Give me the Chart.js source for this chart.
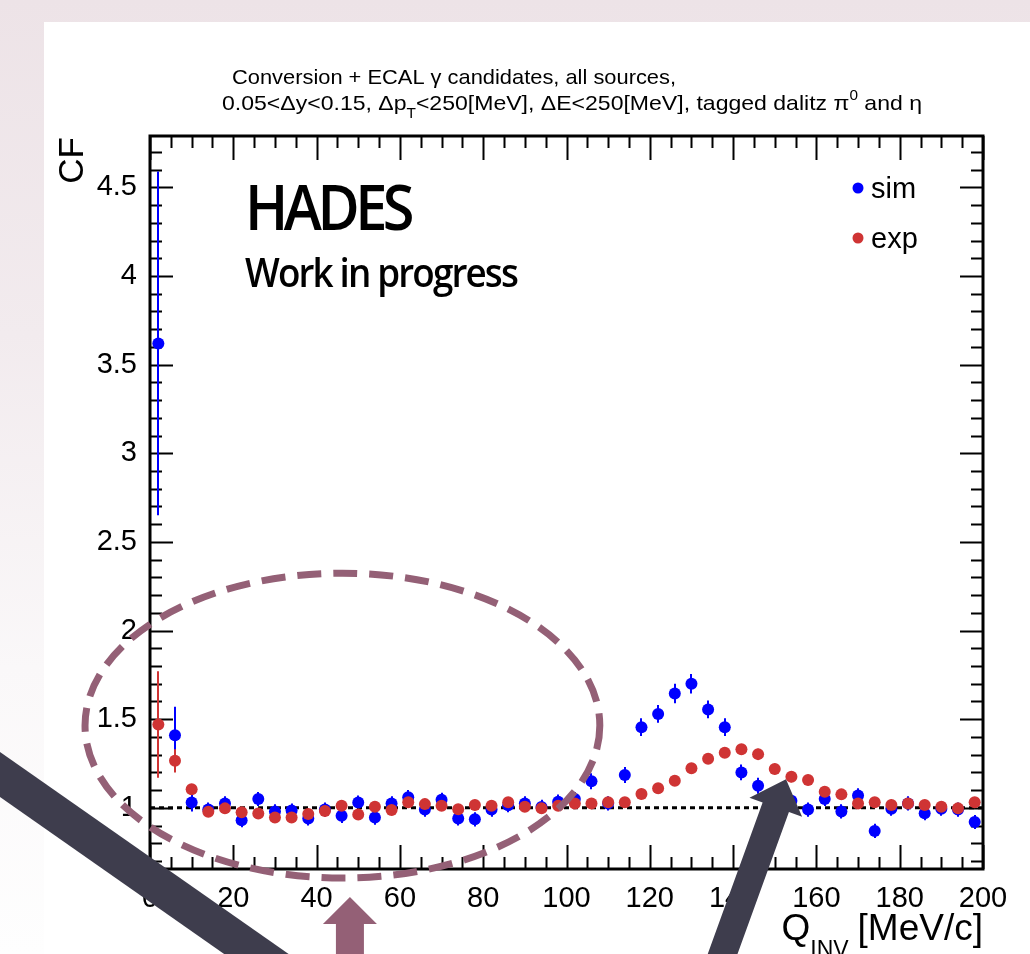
<!DOCTYPE html>
<html>
<head>
<meta charset="utf-8">
<script src="https://cdn.jsdelivr.net/npm/chart.js@4.4.0/dist/chart.umd.min.js"></script>
<style>
	html, body { margin: 0; padding: 0; }
	body {
		width: 1030px; height: 954px; position: relative; overflow: hidden;
		background: linear-gradient(to bottom, #ede3e7 0%, #f2ebee 35%, #faf8f9 70%, #fefefe 100%);
	}
	#sheet { position: absolute; left: 44px; top: 22px; right: 0; bottom: 0; background: #fff; }
	#cf { position: absolute; left: 0; top: 0; }
</style>
</head>
<body>
<div id="sheet"></div>
<canvas id="cf" width="1030" height="954"></canvas>
<script>
// Q_inv bin centres [MeV/c], 4 MeV bins
const Q_BINS = [
	2, 6, 10, 14, 18, 22, 26, 30, 34, 38,
	42, 46, 50, 54, 58, 62, 66, 70, 74, 78,
	82, 86, 90, 94, 98, 102, 106, 110, 114, 118,
	122, 126, 130, 134, 138, 142, 146, 150, 154, 158,
	162, 166, 170, 174, 178, 182, 186, 190, 194, 198,
]

const SIM_CF = [
	3.62, 1.41, 1.03, 0.99, 1.025, 0.93, 1.05, 0.98, 0.985, 0.94,
	0.99, 0.955, 1.03, 0.945, 1.025, 1.06, 0.99, 1.045, 0.94, 0.935,
	0.99, 1.015, 1.025, 1.005, 1.035, 1.05, 1.15, 1.025, 1.185, 1.455,
	1.53, 1.645, 1.70, 1.555, 1.455, 1.20, 1.125, 1.07, 1.04, 0.99,
	1.05, 0.98, 1.07, 0.87, 0.995, 1.025, 0.97, 0.995, 0.99, 0.92,
]
const SIM_ERR = [
	0.97, 0.16, 0.05, 0.04, 0.04, 0.04, 0.04, 0.04, 0.04, 0.04,
	0.04, 0.04, 0.04, 0.04, 0.04, 0.04, 0.04, 0.04, 0.04, 0.04,
	0.04, 0.04, 0.04, 0.04, 0.04, 0.04, 0.045, 0.04, 0.045, 0.05,
	0.05, 0.055, 0.055, 0.05, 0.05, 0.045, 0.045, 0.04, 0.04, 0.04,
	0.04, 0.04, 0.04, 0.04, 0.04, 0.04, 0.04, 0.04, 0.04, 0.04,
]

const EXP_CF = [
	1.47, 1.265, 1.105, 0.978, 0.997, 0.975, 0.968, 0.946, 0.946, 0.965,
	0.982, 1.012, 0.963, 1.006, 0.988, 1.031, 1.021, 1.012, 0.992, 1.016,
	1.012, 1.031, 1.006, 0.997, 1.012, 1.025, 1.025, 1.031, 1.031, 1.078,
	1.11, 1.153, 1.223, 1.277, 1.311, 1.33, 1.303, 1.219, 1.175, 1.157,
	1.091, 1.076, 1.025, 1.031, 1.016, 1.025, 1.016, 1.006, 0.997, 1.031,
]
const EXP_ERR = [
	0.30, 0.065, 0.03, 0.03, 0.03, 0.03, 0.03, 0.03, 0.03, 0.03,
	0.03, 0.03, 0.03, 0.03, 0.03, 0.03, 0.03, 0.03, 0.03, 0.03,
	0.03, 0.03, 0.03, 0.03, 0.03, 0.03, 0.03, 0.03, 0.03, 0.03,
	0.03, 0.03, 0.03, 0.03, 0.03, 0.03, 0.03, 0.03, 0.03, 0.03,
	0.03, 0.03, 0.03, 0.03, 0.03, 0.03, 0.03, 0.03, 0.03, 0.03,
]

const X_TICKS = [0, 20, 40, 60, 80, 100, 120, 140, 160, 180, 200]
const Y_TICKS = [1, 1.5, 2, 2.5, 3, 3.5, 4, 4.5]
const X_RANGE = [0, 200]
const Y_RANGE = [0.655, 4.79]
const UNITY = [{ x: 0, y: 1 }, { x: 200, y: 1 }]

const BLUE = '#0000ff'
const RED = '#cf3434'
const MAUVE = '#946076'
const SLATE = '#3e3d4d'
const FONT = '"Liberation Sans", Arial, Helvetica, sans-serif'

// slide markings, in axis units
const RING = { x: 46.2, y: 1.464, rx: 61.8, ry: 0.86 }
const UP_ARROW = { from: [48.0, 0.085], to: [48.0, 0.497] }
const SIDE_ARROW = { from: [135.7, 0.06], to: [152.7, 1.162] }
const BAR = { from: [-40.8, 1.267], to: [43.2, -0.115] }

function points (ys) {
	return Q_BINS.map((q, i) => ({ x: q, y: ys[i] }))
}

function arrow (ctx, x0, y0, x1, y1, shaft, head, head_len) {
	const len = Math.hypot(x1 - x0, y1 - y0)
	const ux = (x1 - x0) / len
	const uy = (y1 - y0) / len
	const nx = -uy
	const ny = ux
	const bx = x1 - ux * head_len
	const by = y1 - uy * head_len
	ctx.beginPath()
	ctx.moveTo(x0 + nx * shaft, y0 + ny * shaft)
	ctx.lineTo(bx + nx * shaft, by + ny * shaft)
	ctx.lineTo(bx + nx * head, by + ny * head)
	ctx.lineTo(x1, y1)
	ctx.lineTo(bx - nx * head, by - ny * head)
	ctx.lineTo(bx - nx * shaft, by - ny * shaft)
	ctx.lineTo(x0 - nx * shaft, y0 - ny * shaft)
	ctx.closePath()
	ctx.fill()
}

// draw a run of [text, baseline shift, font] pieces squeezed to a given width
function squeezed (ctx, pieces, x, y, width) {
	let natural = 0
	for (const [t, , f] of pieces) {
		ctx.font = f
		natural += ctx.measureText(t).width
	}
	ctx.save()
	ctx.translate(x, y)
	ctx.scale(width / natural, 1)
	let cx = 0
	for (const [t, dy, f] of pieces) {
		ctx.font = f
		ctx.fillText(t, cx, dy)
		cx += ctx.measureText(t).width
	}
	ctx.restore()
}

const axes_plugin = {
	id: 'root_frame',
	beforeDatasetsDraw (chart) {
		const { ctx, chartArea: a, scales: { x, y } } = chart
		ctx.save()
		ctx.strokeStyle = '#000'
		ctx.lineWidth = 2
		ctx.beginPath()
		for (let v = X_RANGE[0]; v <= X_RANGE[1]; v += 5) {
			const px = Math.round(x.getPixelForValue(v)) + 0.5
			const len = v % 20 === 0 ? 24 : 12
			ctx.moveTo(px, a.bottom); ctx.lineTo(px, a.bottom - len)
			ctx.moveTo(px, a.top); ctx.lineTo(px, a.top + len)
		}
		for (let i = 7; i <= 47; i++) {
			const py = Math.round(y.getPixelForValue(i / 10)) + 0.5
			const len = i % 5 === 0 ? 23 : 12
			ctx.moveTo(a.left, py); ctx.lineTo(a.left + len, py)
			ctx.moveTo(a.right, py); ctx.lineTo(a.right - len, py)
		}
		ctx.stroke()

		// error bars
		ctx.beginPath()
		ctx.rect(a.left, a.top, a.right - a.left, a.bottom - a.top)
		ctx.clip()
		const sets = [[SIM_CF, SIM_ERR, BLUE], [EXP_CF, EXP_ERR, RED]]
		for (const [vals, errs, col] of sets) {
			ctx.strokeStyle = col
			ctx.lineWidth = 2
			ctx.beginPath()
			Q_BINS.forEach(function (q, i) {
				const px = Math.round(x.getPixelForValue(q))
				ctx.moveTo(px, y.getPixelForValue(vals[i] - errs[i]))
				ctx.lineTo(px, y.getPixelForValue(vals[i] + errs[i]))
			})
			ctx.stroke()
		}
		ctx.restore()
	},
	afterDatasetsDraw (chart) {
		const { ctx, chartArea: a } = chart
		ctx.save()
		ctx.strokeStyle = '#000'
		ctx.lineWidth = 3
		ctx.strokeRect(a.left, a.top, a.right - a.left, a.bottom - a.top)
		ctx.restore()
	},
	afterDraw (chart) {
		const { ctx, chartArea: a, scales: { x, y } } = chart
		ctx.save()
		ctx.fillStyle = '#000'
		ctx.textAlign = 'left'
		ctx.textBaseline = 'alphabetic'

		// header
		const main = '21px ' + FONT
		const small = '14px ' + FONT
		squeezed(ctx, [['Conversion + ECAL γ candidates, all sources,', 0, main]], 232, 84, 444)
		squeezed(ctx, [
			['0.05<Δy<0.15, Δp', 0, main],
			['T', 8, small],
			['<250[MeV], ΔE<250[MeV], tagged dalitz π', 0, main],
			['0', -10, small],
			[' and η', 0, main],
		], 222, 110, 700)

		// experiment tag
		ctx.letterSpacing = '-5px'
		squeezed(ctx, [['HADES', 0, '600 64px "Open Sans", sans-serif']], 245, 230, 165)
		ctx.letterSpacing = '-2px'
		squeezed(ctx, [['Work in progress', 0, '600 40px "Open Sans", sans-serif']], 245, 287, 272)
		ctx.letterSpacing = '0px'

		// legend
		const legend = [['sim', BLUE, 188], ['exp', RED, 238]]
		ctx.font = '29px ' + FONT
		for (const [label, col, cy] of legend) {
			ctx.fillStyle = col
			ctx.beginPath()
			ctx.arc(858, cy, 5.5, 0, Math.PI * 2)
			ctx.fill()
			ctx.fillStyle = '#000'
			ctx.fillText(label, 871, cy + 10)
		}

		// axis titles
		ctx.font = '37px ' + FONT
		ctx.textAlign = 'right'
		ctx.fillText('[MeV/c]', a.right, 940)
		const unit_w = ctx.measureText('[MeV/c]').width + 9
		ctx.font = '23px ' + FONT
		ctx.fillText('INV', a.right - unit_w, 957)
		const inv_w = ctx.measureText('INV').width
		ctx.font = '37px ' + FONT
		ctx.fillText('Q', a.right - unit_w - inv_w, 940)

		ctx.save()
		ctx.font = '35px ' + FONT
		ctx.translate(83, a.top + 1)
		ctx.rotate(-Math.PI / 2)
		ctx.fillText('CF', 0, 0)
		ctx.restore()

		// slide markings
		const px = v => x.getPixelForValue(v)
		const py = v => y.getPixelForValue(v)
		ctx.strokeStyle = MAUVE
		ctx.lineWidth = 7
		ctx.setLineDash([24, 12])
		ctx.beginPath()
		ctx.ellipse(px(RING.x), py(RING.y), px(RING.x + RING.rx) - px(RING.x),
			py(RING.y) - py(RING.y + RING.ry), 0, 0, Math.PI * 2)
		ctx.stroke()
		ctx.setLineDash([])

		ctx.fillStyle = MAUVE
		arrow(ctx, px(UP_ARROW.from[0]), py(UP_ARROW.from[1]),
			px(UP_ARROW.to[0]), py(UP_ARROW.to[1]), 14, 27, 27)

		ctx.fillStyle = SLATE
		arrow(ctx, px(SIDE_ARROW.from[0]), py(SIDE_ARROW.from[1]),
			px(SIDE_ARROW.to[0]), py(SIDE_ARROW.to[1]), 14, 28, 30)

		ctx.strokeStyle = SLATE
		ctx.lineWidth = 37
		ctx.beginPath()
		ctx.moveTo(px(BAR.from[0]), py(BAR.from[1]))
		ctx.lineTo(px(BAR.to[0]), py(BAR.to[1]))
		ctx.stroke()
		ctx.restore()
	},
}

const ctx = document.getElementById('cf').getContext('2d')
new Chart(ctx, {
	type: 'scatter',
	data: {
		datasets: [
			{
				label: 'sim',
				data: points(SIM_CF),
				backgroundColor: BLUE,
				pointRadius: 6,
				pointBorderWidth: 0,
				order: 2,
			},
			{
				label: 'exp',
				data: points(EXP_CF),
				backgroundColor: RED,
				pointRadius: 6,
				pointBorderWidth: 0,
				order: 1,
			},
			{
				type: 'line',
				label: 'unity',
				data: UNITY,
				borderColor: '#000',
				borderWidth: 3,
				borderDash: [5, 4],
				pointRadius: 0,
				order: 3,
			},
		],
	},
	options: {
		responsive: false,
		devicePixelRatio: 1,
		animation: false,
		events: [],
		layout: { padding: { top: 136, right: 47, left: 0, bottom: 0 } },
		plugins: {
			legend: { display: false },
			tooltip: { enabled: false },
		},
		scales: {
			x: {
				type: 'linear',
				min: X_RANGE[0],
				max: X_RANGE[1],
				grid: { display: false },
				border: { display: false },
				afterBuildTicks: scale => { scale.ticks = X_TICKS.map(value => ({ value })) },
				afterFit: scale => { scale.height = 85 },
				ticks: {
					autoSkip: false,
					maxRotation: 0,
					padding: 5,
					color: '#000',
					font: { family: FONT, size: 29 },
					callback: v => String(v),
				},
			},
			y: {
				type: 'linear',
				min: Y_RANGE[0],
				max: Y_RANGE[1],
				grid: { display: false },
				border: { display: false },
				afterBuildTicks: scale => { scale.ticks = Y_TICKS.map(value => ({ value })) },
				afterFit: scale => { scale.width = 150 },
				ticks: {
					autoSkip: false,
					padding: 5,
					color: '#000',
					font: { family: FONT, size: 29 },
					callback: v => String(v),
				},
			},
		},
	},
	plugins: [axes_plugin],
})
</script>
</body>
</html>
